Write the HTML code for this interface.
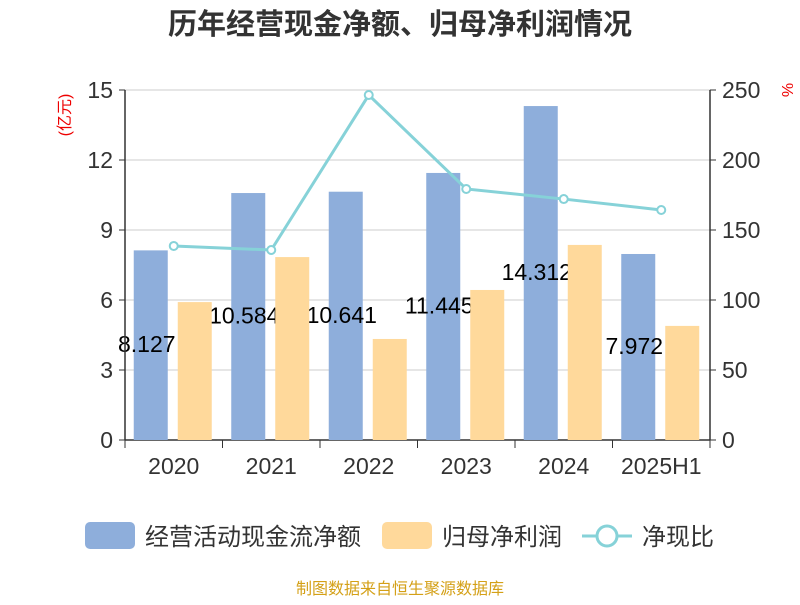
<!DOCTYPE html>
<html><head><meta charset="utf-8"><style>
body{margin:0;background:#fff;font-family:"Liberation Sans","Noto Sans CJK SC",sans-serif}
</style></head><body>
<svg id="c" width="800" height="600" xmlns="http://www.w3.org/2000/svg" font-family="Liberation Sans, Noto Sans CJK SC, sans-serif">
<text x="400" y="34" text-anchor="middle" font-size="29" font-weight="bold" fill="#333">历年经营现金净额、归母净利润情况</text>
<text transform="translate(70,115) rotate(-90)" text-anchor="middle" font-size="16" fill="#e00">(亿元)</text>
<text transform="translate(782,90) rotate(90)" text-anchor="middle" font-size="16" fill="#e00">%</text>
<g id="grid"></g><g id="bars1"></g><g id="labels"></g><g id="bars2"></g><g id="line"></g><g id="axes"></g>
<g>
<rect x="85" y="522" width="50" height="27" rx="5" fill="#8eaedb"/>
<text x="145" y="545" font-size="24" fill="#333">经营活动现金流净额</text>
<rect x="382" y="522" width="50" height="27" rx="5" fill="#ffd99b"/>
<text x="442" y="545" font-size="24" fill="#333">归母净利润</text>
<line x1="582" y1="536" x2="632" y2="536" stroke="#86d2d8" stroke-width="3"/>
<circle cx="607" cy="536" r="10" fill="#fff" stroke="#86d2d8" stroke-width="3"/>
<text x="642" y="545" font-size="24" fill="#333">净现比</text>
</g>
<text x="400" y="594" text-anchor="middle" font-size="16" fill="#d4a017">制图数据来自恒生聚源数据库</text>
</svg>
<script>
const categories=["2020","2021","2022","2023","2024","2025H1"];
const cashFlow=[8.127,10.584,10.641,11.445,14.312,7.972];
const netProfit=[5.91,7.84,4.33,6.43,8.36,4.89];
const ratio=[138.6,135.7,246.4,179.3,172.1,164.3];
const leftTicks=[0,3,6,9,12,15];
const rightTicks=[0,50,100,150,200,250];
const NS="http://www.w3.org/2000/svg";
const X0=125,X1=710,Y0=440,Y1=90;
const band=(X1-X0)/categories.length;
const yL=v=>Y0-(v/15)*(Y0-Y1);
const yR=v=>Y0-(v/250)*(Y0-Y1);
const xc=i=>X0+band*(i+0.5);
function mk(t,a,p){const e=document.createElementNS(NS,t);for(const k in a)e.setAttribute(k,a[k]);document.getElementById(p).appendChild(e);return e;}
leftTicks.forEach((v,i)=>{
 const g=mk("line",{x1:X0,x2:X1,y1:yL(v),y2:yL(v),stroke:v===0?"#333":"#ccc","stroke-width":v===0?1.5:1},"grid");
 
 
 const t=mk("text",{x:X0-12,y:yL(v)+8,"text-anchor":"end","font-size":23,fill:"#333"},"axes");
 t.textContent=v;
 
 
 const tk=mk("line",{x1:X0-6,x2:X0,y1:yL(v),y2:yL(v),stroke:"#333"},"axes");
 
 
});
rightTicks.forEach(v=>{
 const t=mk("text",{x:X1+12,y:yR(v)+8,"font-size":23,fill:"#333"},"axes");
 t.textContent=v;
 
 
 const tk=mk("line",{x1:X1,x2:X1+6,y1:yR(v),y2:yR(v),stroke:"#333"},"axes");
 
 
});
let a=mk("line",{x1:X0,x2:X0,y1:Y1,y2:Y0,stroke:"#333","stroke-width":1.5},"axes");


a=mk("line",{x1:X1,x2:X1,y1:Y1,y2:Y0,stroke:"#333","stroke-width":1.5},"axes");


for(let i=0;i<=categories.length;i++){
 const tk=mk("line",{x1:X0+band*i,x2:X0+band*i,y1:Y0,y2:Y0+8,stroke:"#333"},"axes");
 
 
}
categories.forEach((c,i)=>{
 const t=mk("text",{x:xc(i),y:474,"text-anchor":"middle","font-size":23,fill:"#333"},"axes");
 t.textContent=c;
 
 
 const b=mk("rect",{x:xc(i)-40,y:yL(cashFlow[i]),width:34,height:Y0-yL(cashFlow[i]),fill:"#8eaedb"},"bars1");
 
 
 const l=mk("text",{x:xc(i)-27,y:(yL(cashFlow[i])+Y0)/2+7,"text-anchor":"middle","font-size":23,fill:"#000"},"labels");
 l.textContent=cashFlow[i];
 
 
 const o=mk("rect",{x:xc(i)+4,y:yL(netProfit[i]),width:34,height:Y0-yL(netProfit[i]),fill:"#ffd99b"},"bars2");
 
 
});
const pl=mk("polyline",{points:ratio.map((v,i)=>xc(i)+","+yR(v)).join(" "),fill:"none",stroke:"#86d2d8","stroke-width":3},"line");


ratio.forEach((v,i)=>{
 const p=mk("circle",{cx:xc(i),cy:yR(v),r:4,fill:"#fff",stroke:"#86d2d8","stroke-width":2},"line");
 
 
});
</script>
</body></html>
